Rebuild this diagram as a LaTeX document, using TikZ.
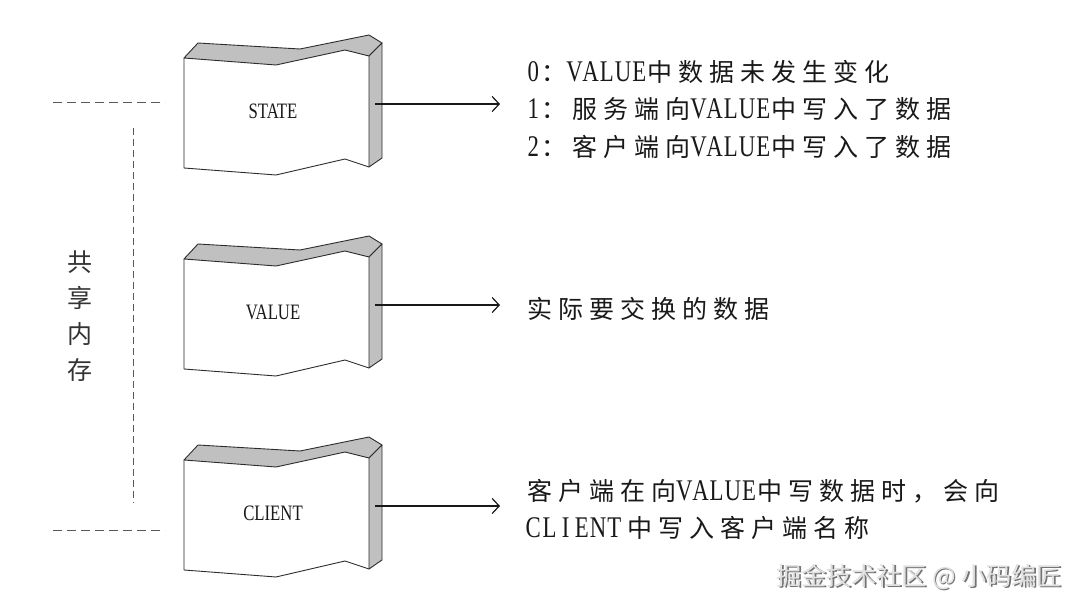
\documentclass[tikz,border=0pt]{standalone}
\usepackage{fontspec}
\setmainfont{Liberation Serif}[FakeStretch=0.76]
\newfontfamily\cjkls{Noto Sans CJK SC}[LetterSpace=24]
\newfontfamily\cjk{Noto Sans CJK SC}
\usetikzlibrary{arrows.meta}
\definecolor{facegray}{RGB}{192,192,192}
\definecolor{edge}{RGB}{45,45,45}
\definecolor{ink}{RGB}{25,25,25}
\newcommand\zh[1]{{\fontsize{25}{30}\cjkls #1}}
\def\monoloop#1{\ifx#1\relax\else\makebox[16.2pt]{#1}\expandafter\monoloop\fi}
\newcommand\mono[1]{\monoloop#1\relax}
\newcommand\memblock[3]{%
  \begin{scope}[shift={(0,#1)}]
    \fill[white] (184,58) -- (276,65) -- (345,50) -- (369,56) -- (369,167) -- (345,159) -- (276,175) -- (184,168) -- cycle;
    \draw[face] (184,58) -- (276,65) -- (345,50) -- (369,56) -- (382,43) -- (369,35) -- (300,49) -- (198,43) -- cycle;
    \draw[face] (369,56) -- (382,43) -- (382,158) -- (369,167) -- cycle;
    \draw[edgeline] (184,58) -- (184,168) -- (276,175) -- (345,159) -- (369,167);
    \node[boxlabel] (#2) at (273,111) {#3};
  \end{scope}}
\tikzset{
  face/.style={fill=facegray, draw=edge, line width=0.9pt, line join=round},
  edgeline/.style={draw=edge, line width=0.9pt, line join=round},
  boxlabel/.style={text=ink, font=\fontsize{22}{24}\selectfont, inner sep=0pt},
  desc/.style={text=ink, anchor=base west, inner sep=0pt, font=\fontsize{30}{36}\selectfont},
  conn/.style={draw=ink, line width=1.2pt, -{Straight Barb[length=7pt,width=15pt,line width=1.2pt]}},
  hdash/.style={draw=black!65, line width=0.9pt, dash pattern=on 9pt off 5pt},
  vdash/.style={draw=black!65, line width=0.9pt, dash pattern=on 7pt off 4pt},
  wmark/.style={anchor=east, inner sep=0pt, font=\fontsize{25}{28}\cjk},
}
\begin{document}
\begin{tikzpicture}[x=1pt,y=-1pt]
\useasboundingbox (0,0) rectangle (1080,609);
\fill[white] (0,0) rectangle (1080,609);

\memblock{0}{state}{STATE}
\memblock{201}{value}{VALUE}
\memblock{402}{client}{CLIENT}

% arrows
\coordinate (s1) at (375,104);  \coordinate (e1) at (500,104);
\coordinate (s2) at (375,305);  \coordinate (e2) at (500,305);
\coordinate (s3) at (375,506);  \coordinate (e3) at (500,506);
\draw[conn] (s1) -- (e1);
\draw[conn] (s2) -- (e2);
\draw[conn] (s3) -- (e3);

% descriptions
\node[desc] (t1) at (525,82) {\mono{0}\zh{：}\mono{VALUE}\zh{中数据未发生变化}};
\node[desc] (t2) at (525,119) {\mono{1}\zh{：服务端向}\mono{VALUE}\zh{中写入了数据}};
\node[desc] (t3) at (525,157) {\mono{2}\zh{：客户端向}\mono{VALUE}\zh{中写入了数据}};
\node[desc] (t4) at (527,319) {\zh{实际要交换的数据}};
\node[desc] (t5) at (527,501) {\zh{客户端在向}\mono{VALUE}\zh{中写数据时，会向}};
\node[desc] (t6) at (525,538) {\mono{CLIENT}\,\zh{中写入客户端名称}};

% shared memory bracket
\coordinate (h1a) at (53,102);  \coordinate (h1b) at (165,102);
\coordinate (h2a) at (53,530);  \coordinate (h2b) at (165,530);
\coordinate (va) at (133,128);  \coordinate (vb) at (133,503);
\draw[hdash] (h1a) -- (h1b);
\draw[hdash] (h2a) -- (h2b);
\draw[vdash] (va) -- (vb);
\node[text=black!80, align=center, inner sep=0pt, font=\fontsize{25}{36}\cjk] (shm) at (80,316) {共\\享\\内\\存};

% watermark
\node[wmark, text=black!55] (wmshadow) at (1063.2,578.2) {掘金技术社区 @ 小码编匠};
\node[wmark, text=black!12] (wm) at (1062,577) {掘金技术社区 @ 小码编匠};
\end{tikzpicture}
\end{document}
